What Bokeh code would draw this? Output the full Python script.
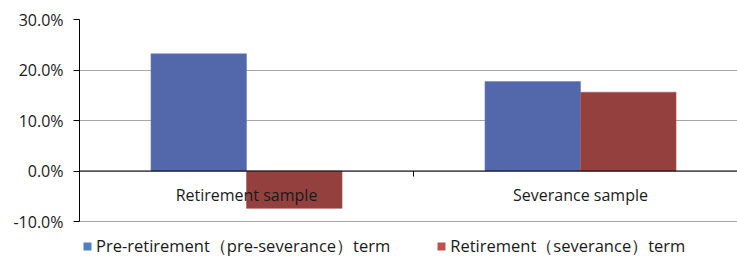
from bokeh.plotting import figure
from bokeh.models import ColumnDataSource, FixedTicker, NumeralTickFormatter, Span, Legend, LegendItem, Range1d
from bokeh.core.properties import value
from bokeh.embed import file_html
from bokeh.resources import INLINE

# Data
categories = ["Retirement sample", "Severance sample"]
series_names = ["Pre-retirement\uff08pre-severance\uff09term", "Retirement\uff08severance\uff09term"]
pre_term = [0.232, 0.177]
ret_term = [-0.074, 0.156]
y_ticks = [-0.1, 0.0, 0.1, 0.2, 0.3]

cat_x = [i + 0.5 for i in range(len(categories))]
bar_w = 0.286
sep_x = [i + 1.0 for i in range(len(categories) - 1)]

FONT = "Open Sans"

# value-axis spans 202 px; extra 35 px below hold the legend
y_span = y_ticks[-1] - y_ticks[0]
y_low = y_ticks[0] - y_span * 35 / 202

p = figure(width=737, height=256, output_backend="svg", toolbar_location=None,
           x_range=Range1d(0, 1.97), y_range=Range1d(y_low, y_ticks[-1]),
           x_axis_location=None,
           min_border_left=79, min_border_right=0, min_border_top=19, min_border_bottom=0)
p.outline_line_color = None
p.xgrid.visible = False
p.ygrid.grid_line_color = "#a6a6a6"
p.ygrid.grid_line_width = 1

ya = p.yaxis[0]
ya.ticker = FixedTicker(ticks=y_ticks)
ya.bounds = (y_ticks[0], y_ticks[-1])
ya.formatter = NumeralTickFormatter(format="0.0%")
ya.axis_line_color = "black"
ya.major_tick_line_color = "black"
ya.major_tick_out = 6
ya.major_tick_in = 0
ya.minor_tick_line_color = None
ya.major_label_standoff = 10
ya.major_label_text_font = FONT
ya.major_label_text_font_size = "16px"
ya.major_label_text_color = "#1a1a1a"

src = ColumnDataSource(dict(
    x1=[c - bar_w / 2 for c in cat_x], x2=[c + bar_w / 2 for c in cat_x],
    pre=pre_term, ret=ret_term))
p.vbar(x="x1", top="pre", bottom=0, width=bar_w, source=src,
       fill_color="#5268AA", line_color="#6A7FBC", line_width=0.6)
p.vbar(x="x2", top="ret", bottom=0, width=bar_w, source=src,
       fill_color="#94403F", line_color="#A65A59", line_width=0.6)

p.add_layout(Span(location=0, dimension="width", line_color="black", line_width=1))
p.segment(x0=sep_x, x1=sep_x, y0=[0] * len(sep_x), y1=[-0.011] * len(sep_x),
          line_color="black", line_width=1)

p.text(x=cat_x, y=[-0.0475] * len(cat_x), text=categories,
       text_align="center", text_baseline="middle",
       text_font=value(FONT), text_font_size="16px", text_color="#1a1a1a")

# legend proxies: zero-height bars (invisible) carrying the legend swatch colours
r1 = p.vbar(x="x1", top=0, bottom=0, width=bar_w, source=src,
            fill_color="#4F81BD", line_color=None)
r2 = p.vbar(x="x2", top=0, bottom=0, width=bar_w, source=src,
            fill_color="#C0504D", line_color=None)
leg = Legend(items=[LegendItem(label=series_names[0], renderers=[r1], index=0),
                    LegendItem(label=series_names[1], renderers=[r2], index=0)],
             location=(3, -2), orientation="horizontal",
             glyph_width=10, glyph_height=10, label_standoff=4, spacing=46,
             padding=0, margin=0, border_line_color=None, background_fill_alpha=0,
             label_text_font=FONT, label_text_font_size="16.5px", label_text_color="#1a1a1a")
p.add_layout(leg)

open("out.html", "w").write(file_html(p, INLINE))
